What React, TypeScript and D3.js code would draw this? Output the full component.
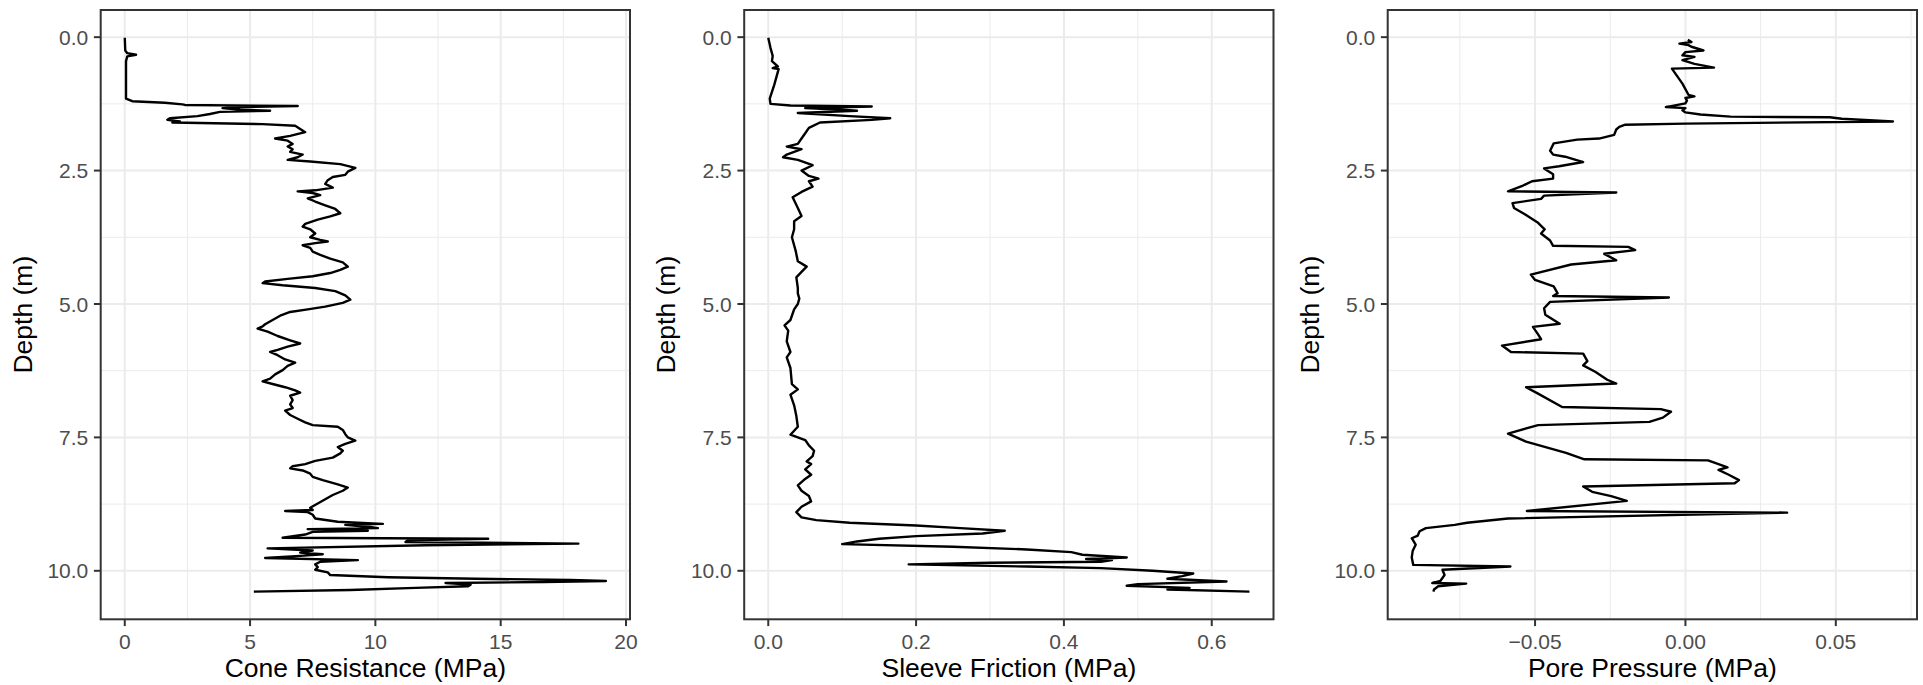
import React from "react";
import * as d3 from "d3";

// ---------------- data ----------------
const coneDepth = [
  0.01, 0.25, 0.3, 0.33, 0.36, 0.45, 0.8, 1.15, 1.2, 1.23, 1.26, 1.27, 1.29, 1.31, 1.33, 1.36, 1.38, 1.4, 1.44, 1.48,
  1.52, 1.55, 1.58, 1.6, 1.63, 1.66, 1.72, 1.78, 1.85, 1.9, 1.94, 2.0, 2.05, 2.1, 2.15, 2.2, 2.25, 2.3, 2.33, 2.38,
  2.45, 2.52, 2.58, 2.62, 2.68, 2.75, 2.82, 2.87, 2.89, 2.92, 2.96, 3.02, 3.08, 3.15, 3.22, 3.3, 3.36, 3.42, 3.5, 3.55,
  3.6, 3.68, 3.75, 3.8, 3.83, 3.86, 3.9, 3.95, 4.02, 4.08, 4.15, 4.22, 4.3, 4.36, 4.42, 4.48, 4.53, 4.58, 4.61, 4.65,
  4.7, 4.76, 4.84, 4.92, 4.98, 5.05, 5.1, 5.15, 5.22, 5.3, 5.38, 5.42, 5.46, 5.52, 5.6, 5.68, 5.74, 5.8, 5.86, 5.9,
  5.96, 6.04, 6.1, 6.16, 6.24, 6.32, 6.4, 6.45, 6.5, 6.56, 6.62, 6.66, 6.72, 6.8, 6.88, 6.95, 7.0, 7.08, 7.15, 7.22,
  7.27, 7.3, 7.36, 7.44, 7.5, 7.56, 7.62, 7.68, 7.75, 7.8, 7.88, 7.94, 8.0, 8.04, 8.08, 8.12, 8.18, 8.24, 8.3, 8.38,
  8.44, 8.5, 8.58, 8.66, 8.74, 8.82, 8.86, 8.88, 8.9, 8.95, 9.02, 9.08, 9.12, 9.14, 9.18, 9.2, 9.22, 9.25, 9.27, 9.32,
  9.38, 9.4, 9.43, 9.46, 9.49, 9.52, 9.58, 9.62, 9.66, 9.69, 9.72, 9.76, 9.8, 9.83, 9.88, 9.93, 9.98, 10.03, 10.08, 10.12,
  10.15, 10.17, 10.19, 10.21, 10.23, 10.26, 10.29, 10.32, 10.36, 10.39,
];
const coneValue = [
  0.0, 0.02, 0.1, 0.45, 0.1, 0.05, 0.05, 0.05, 0.3, 1.6, 2.3, 2.4, 6.9, 4.8, 3.9, 4.6, 5.8, 3.8, 3.4, 2.9,
  1.8, 1.7, 2.2, 1.9, 5.5, 6.8, 7.0, 7.2, 6.6, 6.0, 6.5, 6.7, 6.5, 6.7, 6.6, 7.1, 6.9, 6.5, 7.4, 8.6,
  9.2, 8.9, 8.8, 8.3, 8.1, 8.0, 8.3, 7.6, 6.9, 7.5, 7.8, 7.3, 7.6, 8.0, 8.4, 8.6, 8.2, 7.7, 7.2, 7.1,
  7.4, 7.6, 7.4, 7.8, 8.1, 7.6, 7.1, 7.4, 7.5, 7.8, 8.2, 8.7, 8.9, 8.6, 8.2, 7.5, 6.5, 5.6, 5.5, 6.3,
  7.6, 8.4, 8.8, 9.0, 8.7, 8.0, 7.3, 6.6, 6.2, 5.9, 5.6, 5.5, 5.3, 5.7, 6.1, 6.6, 7.0, 6.5, 6.1, 5.8,
  6.1, 6.4, 6.8, 6.5, 6.3, 6.0, 5.8, 5.5, 5.9, 6.4, 6.8, 7.0, 6.6, 6.7, 6.6, 6.7, 6.4, 6.6, 6.9, 7.2,
  7.5, 8.5, 8.7, 8.8, 8.9, 9.2, 8.8, 8.5, 8.7, 8.6, 8.3, 7.6, 7.2, 6.7, 6.6, 7.1, 7.4, 7.5, 7.9, 8.5,
  8.9, 8.7, 8.3, 8.0, 7.7, 7.4, 7.5, 6.4, 7.3, 7.5, 7.6, 8.5, 10.3, 8.8, 9.8, 10.1, 7.3, 9.7, 7.5, 7.2,
  6.3, 14.5, 11.3, 11.2, 18.1, 12.0, 5.7, 7.5, 7.0, 7.9, 7.0, 5.6, 9.3, 7.8, 7.6, 7.7, 7.6, 8.1, 8.2, 10.5,
  14.0, 17.8, 19.2, 16.7, 12.8, 13.8, 13.7, 11.6, 9.0, 5.15,
];

const sleeveDepth = [
  0.01, 0.2, 0.35, 0.45, 0.55, 0.58, 0.6, 0.9, 1.15, 1.25, 1.28, 1.3, 1.33, 1.36, 1.38, 1.42, 1.48, 1.52, 1.55, 1.6,
  1.7, 1.8, 1.9, 2.0, 2.05, 2.1, 2.2, 2.25, 2.3, 2.4, 2.5, 2.6, 2.65, 2.7, 2.8, 2.9, 3.0, 3.2, 3.35, 3.45,
  3.6, 3.75, 4.0, 4.2, 4.3, 4.4, 4.5, 4.7, 4.8, 4.9, 5.0, 5.1, 5.3, 5.4, 5.5, 5.7, 5.9, 6.0, 6.2, 6.5,
  6.6, 6.7, 6.9, 7.1, 7.3, 7.45, 7.55, 7.65, 7.75, 7.85, 7.95, 8.0, 8.1, 8.2, 8.3, 8.4, 8.5, 8.6, 8.7, 8.8,
  8.9, 9.0, 9.05, 9.1, 9.15, 9.2, 9.25, 9.3, 9.35, 9.4, 9.45, 9.5, 9.55, 9.6, 9.65, 9.7, 9.75, 9.78, 9.8, 9.83,
  9.85, 9.88, 9.92, 9.95, 10.0, 10.05, 10.1, 10.15, 10.2, 10.25, 10.28, 10.32, 10.35, 10.39,
];
const sleeveValue = [
  0.0, 0.003, 0.006, 0.005, 0.013, 0.006, 0.014, 0.008, 0.002, 0.003, 0.03, 0.14, 0.05, 0.1, 0.12, 0.04, 0.11, 0.165, 0.14, 0.07,
  0.055, 0.05, 0.045, 0.04, 0.025, 0.045, 0.025, 0.02, 0.04, 0.06, 0.045, 0.055, 0.068, 0.055, 0.06, 0.045, 0.033, 0.04, 0.045, 0.035,
  0.035, 0.032, 0.037, 0.04, 0.052, 0.045, 0.038, 0.04, 0.04, 0.042, 0.04, 0.035, 0.03, 0.022, 0.027, 0.025, 0.03, 0.025, 0.03, 0.032,
  0.04, 0.03, 0.035, 0.038, 0.04, 0.03, 0.05, 0.055, 0.062, 0.06, 0.052, 0.058, 0.05, 0.058, 0.048, 0.04, 0.045, 0.055, 0.058, 0.045,
  0.038, 0.045, 0.065, 0.11, 0.2, 0.26, 0.32, 0.29, 0.2, 0.15, 0.12, 0.1, 0.25, 0.35, 0.41, 0.425, 0.485, 0.43, 0.465, 0.45,
  0.3, 0.19, 0.35, 0.45, 0.52, 0.575, 0.56, 0.54, 0.62, 0.5, 0.485, 0.57, 0.54, 0.651,
];

const poreDepth = [
  0.05, 0.09, 0.12, 0.15, 0.18, 0.25, 0.28, 0.34, 0.37, 0.43, 0.5, 0.57, 0.59, 0.87, 1.08, 1.11, 1.14, 1.19, 1.24, 1.31,
  1.33, 1.37, 1.41, 1.45, 1.49, 1.5, 1.53, 1.58, 1.62, 1.64, 1.68, 1.73, 1.83, 1.9, 1.92, 1.99, 2.13, 2.2, 2.24, 2.34,
  2.42, 2.46, 2.57, 2.65, 2.7, 2.78, 2.89, 2.91, 2.97, 3.03, 3.11, 3.2, 3.32, 3.48, 3.6, 3.68, 3.81, 3.91, 3.93, 3.99,
  4.06, 4.18, 4.26, 4.45, 4.55, 4.67, 4.8, 4.85, 4.88, 4.96, 5.08, 5.2, 5.37, 5.43, 5.57, 5.66, 5.78, 5.9, 5.93, 6.07,
  6.15, 6.27, 6.42, 6.49, 6.56, 6.68, 6.93, 6.97, 7.02, 7.13, 7.21, 7.27, 7.43, 7.58, 7.79, 7.91, 7.93, 8.0, 8.06, 8.11,
  8.2, 8.3, 8.36, 8.42, 8.52, 8.6, 8.69, 8.88, 8.91, 9.02, 9.1, 9.14, 9.2, 9.26, 9.34, 9.39, 9.51, 9.63, 9.75, 9.89,
  9.92, 9.98, 10.08, 10.19, 10.23, 10.24, 10.29, 10.35, 10.39,
];
const poreValue = [
  0.0008, 0.002, -0.002, 0.001, 0.002, 0.006, 0.0, -0.001, 0.003, -0.001, 0.003, 0.0095, -0.0045, -0.001, 0.001, 0.003, 0.0, 0.0005, 0.0, -0.0065,
  0.0, -0.001, 0.0, 0.005, 0.015, 0.048, 0.052, 0.069, 0.0, -0.02, -0.022, -0.023, -0.0237, -0.0287, -0.036, -0.0438, -0.045, -0.044, -0.04, -0.034,
  -0.042, -0.047, -0.044, -0.044, -0.051, -0.054, -0.059, -0.023, -0.047, -0.048, -0.0575, -0.057, -0.0534, -0.049, -0.0468, -0.048, -0.045, -0.044, -0.019, -0.0167,
  -0.027, -0.023, -0.038, -0.0514, -0.05, -0.0438, -0.0425, -0.044, -0.0055, -0.045, -0.047, -0.0466, -0.0418, -0.0507, -0.049, -0.048, -0.061, -0.058, -0.034, -0.0326,
  -0.034, -0.03, -0.026, -0.023, -0.053, -0.049, -0.041, -0.0082, -0.0048, -0.0075, -0.012, -0.049, -0.059, -0.053, -0.0397, -0.0336, 0.0075, 0.011, 0.014, 0.011,
  0.0144, 0.0178, 0.0164, -0.034, -0.031, -0.0247, -0.0195, -0.0527, 0.0338, -0.059, -0.0726, -0.0767, -0.0863, -0.0884, -0.089, -0.091, -0.0897, -0.0907, -0.091, -0.0905,
  -0.0582, -0.0808, -0.0801, -0.0815, -0.0842, -0.0729, -0.0822, -0.0836, -0.0838,
];

const depthTicks = [0, 2.5, 5, 7.5, 10];
const coneTicks = [0, 5, 10, 15, 20];
const sleeveTicks = [0, 0.2, 0.4, 0.6];
const poreTicks = [-0.05, 0, 0.05];

const depthTitle = "Depth (m)";
const panelTitles = ["Cone Resistance (MPa)", "Sleeve Friction (MPa)", "Pore Pressure (MPa)"];

// ---------------- layout ----------------
const W = 1923;
const H = 685;
const PANEL_LEFTS = [100.7, 744.2, 1387.7];
const PANEL_W = 529.3;
const PANEL_TOP = 10;
const PANEL_BOTTOM = 619.3;
const FONT = "'Liberation Sans', Arial, Helvetica, sans-serif";
const TICK_FS = 21;
const TITLE_FS = 26.5;

function expand(ext: [number, number]): [number, number] {
  const r = ext[1] - ext[0];
  return [ext[0] - 0.05 * r, ext[1] + 0.05 * r];
}

function minorBreaks(ticks: number[], domain: [number, number]) {
  const step = ticks[1] - ticks[0];
  const out: number[] = [];
  out.push(ticks[0] - step / 2);
  ticks.forEach((t) => out.push(t + step / 2));
  return out.filter((v) => v >= domain[0] && v <= domain[1]);
}

const allDepths = [...coneDepth, ...sleeveDepth, ...poreDepth];
const depthDomain = expand(d3.extent(allDepths) as [number, number]);

interface PanelProps {
  left: number;
  depth: number[];
  values: number[];
  ticks: number[];
  fmt: (n: number) => string;
  title: string;
}

function Panel({ left, depth, values, ticks, fmt, title }: PanelProps) {
  const xDomain = expand(d3.extent(values) as [number, number]);
  const x = d3.scaleLinear().domain(xDomain).range([left, left + PANEL_W]);
  const y = d3.scaleLinear().domain(depthDomain).range([PANEL_TOP, PANEL_BOTTOM]);
  const pts = depth.map((d, i) => [values[i], d] as [number, number]);
  const line = d3
    .line<[number, number]>()
    .x((p) => x(p[0]))
    .y((p) => y(p[1]));
  const xMinor = minorBreaks(ticks, xDomain);
  const yMinor = minorBreaks(depthTicks, depthDomain);
  const yFmt = d3.format(".1f");
  const cx = left + PANEL_W / 2;
  const cy = (PANEL_TOP + PANEL_BOTTOM) / 2;
  const clipId = `clip-${Math.round(left)}`;
  return (
    <g>
      <defs>
        <clipPath id={clipId}>
          <rect x={left} y={PANEL_TOP} width={PANEL_W} height={PANEL_BOTTOM - PANEL_TOP} />
        </clipPath>
      </defs>
      <rect x={left} y={PANEL_TOP} width={PANEL_W} height={PANEL_BOTTOM - PANEL_TOP} fill="#ffffff" />
      {/* minor grid */}
      {xMinor.map((v) => (
        <line key={"xm" + v} x1={x(v)} x2={x(v)} y1={PANEL_TOP} y2={PANEL_BOTTOM} stroke="#EBEBEB" strokeWidth={1} />
      ))}
      {yMinor.map((v) => (
        <line key={"ym" + v} x1={left} x2={left + PANEL_W} y1={y(v)} y2={y(v)} stroke="#EBEBEB" strokeWidth={1} />
      ))}
      {/* major grid */}
      {ticks.map((v) => (
        <line key={"xM" + v} x1={x(v)} x2={x(v)} y1={PANEL_TOP} y2={PANEL_BOTTOM} stroke="#EBEBEB" strokeWidth={2} />
      ))}
      {depthTicks.map((v) => (
        <line key={"yM" + v} x1={left} x2={left + PANEL_W} y1={y(v)} y2={y(v)} stroke="#EBEBEB" strokeWidth={2} />
      ))}
      {/* data */}
      <path
        d={line(pts) || ""}
        fill="none"
        stroke="#000000"
        strokeWidth={2.4}
        strokeLinejoin="round"
        strokeLinecap="butt"
        clipPath={`url(#${clipId})`}
      />
      {/* border */}
      <rect
        x={left}
        y={PANEL_TOP}
        width={PANEL_W}
        height={PANEL_BOTTOM - PANEL_TOP}
        fill="none"
        stroke="#333333"
        strokeWidth={2}
      />
      {/* x axis ticks */}
      {ticks.map((v) => (
        <g key={"xt" + v}>
          <line x1={x(v)} x2={x(v)} y1={PANEL_BOTTOM} y2={PANEL_BOTTOM + 6.8} stroke="#333333" strokeWidth={2} />
          <text
            x={x(v)}
            y={649.3}
            textAnchor="middle"
            fontFamily={FONT}
            fontSize={TICK_FS}
            fill="#4D4D4D"
          >
            {fmt(v)}
          </text>
        </g>
      ))}
      {/* y axis ticks */}
      {depthTicks.map((v) => (
        <g key={"yt" + v}>
          <line x1={left - 6.8} x2={left} y1={y(v)} y2={y(v)} stroke="#333333" strokeWidth={2} />
          <text
            x={left - 12.4}
            y={y(v)}
            dy="0.36em"
            textAnchor="end"
            fontFamily={FONT}
            fontSize={TICK_FS}
            fill="#4D4D4D"
          >
            {yFmt(v)}
          </text>
        </g>
      ))}
      {/* titles */}
      <text x={cx} y={677.3} textAnchor="middle" fontFamily={FONT} fontSize={TITLE_FS} fill="#000000">
        {title}
      </text>
      <text
        transform={`translate(${left - 69.2},${cy}) rotate(-90)`}
        textAnchor="middle"
        fontFamily={FONT}
        fontSize={TITLE_FS}
        fill="#000000"
      >
        {depthTitle}
      </text>
    </g>
  );
}

export default function App() {
  const fmtCone = d3.format("d");
  const fmtSleeve = d3.format(".1f");
  const fmtPore = d3.format(".2f");
  return (
    <svg
      width={W}
      height={H}
      viewBox={`0 0 ${W} ${H}`}
      style={{ position: "absolute", left: 0, top: 0, display: "block", background: "#ffffff" }}
    >
      <rect x={0} y={0} width={W} height={H} fill="#ffffff" />
      <Panel left={PANEL_LEFTS[0]} depth={coneDepth} values={coneValue} ticks={coneTicks} fmt={fmtCone} title={panelTitles[0]} />
      <Panel left={PANEL_LEFTS[1]} depth={sleeveDepth} values={sleeveValue} ticks={sleeveTicks} fmt={fmtSleeve} title={panelTitles[1]} />
      <Panel left={PANEL_LEFTS[2]} depth={poreDepth} values={poreValue} ticks={poreTicks} fmt={fmtPore} title={panelTitles[2]} />
    </svg>
  );
}
